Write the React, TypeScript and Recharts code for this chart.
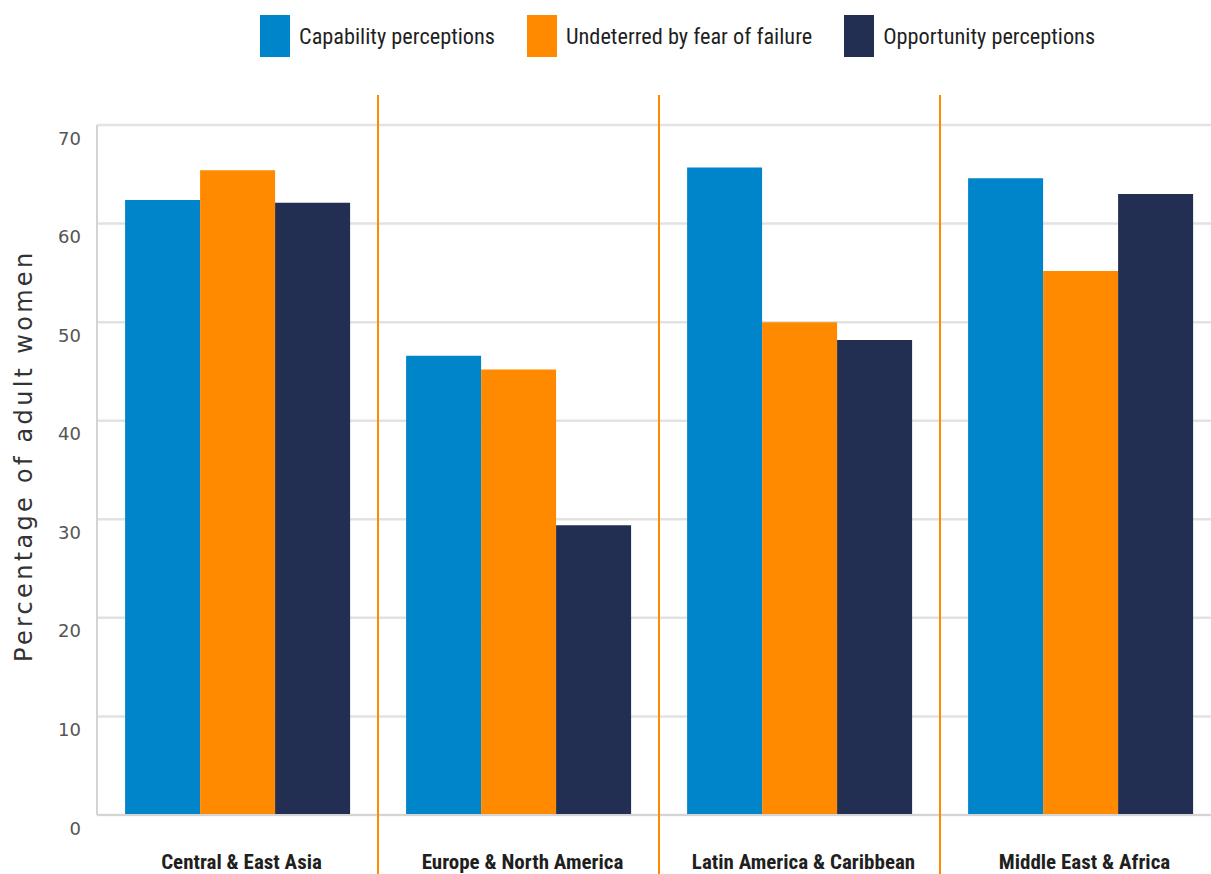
import React from 'react';
import { BarChart, Bar, XAxis, YAxis, CartesianGrid, Legend } from 'recharts';

const regions = ['Central & East Asia', 'Europe & North America', 'Latin America & Caribbean', 'Middle East & Africa'];
const capability = [62.4, 46.6, 65.7, 64.6];
const undeterred = [65.4, 45.2, 50.0, 55.2];
const opportunity = [62.1, 29.4, 48.2, 63.0];
const yTicks = [0, 10, 20, 30, 40, 50, 60, 70];

const series = [
  { key: 'capability', name: 'Capability perceptions', color: '#0085CA' },
  { key: 'undeterred', name: 'Undeterred by fear of failure', color: '#FF8A00' },
  { key: 'opportunity', name: 'Opportunity perceptions', color: '#232F52' },
];

const data = regions.map((region, i) => ({
  region,
  capability: capability[i],
  undeterred: undeterred[i],
  opportunity: opportunity[i],
}));

const narrow = '"Liberation Sans Narrow", "Arial Narrow", "Roboto Condensed", sans-serif';

const renderLegend = () => (
  <div style={{ height: 125, display: 'flex', alignItems: 'flex-start', paddingLeft: 260, paddingTop: 15, boxSizing: 'border-box' }}>
    {series.map((s) => (
      <div key={s.key} style={{ display: 'flex', alignItems: 'center', marginRight: 32 }}>
        <div style={{ width: 30, height: 42, background: s.color, marginRight: 9 }} />
        <span style={{ fontFamily: narrow, fontSize: 22.3, color: '#1f1f1f' }}>{s.name}</span>
      </div>
    ))}
  </div>
);

// category label, plus the orange divider on the left edge of every band but the first
const RegionTick = (props: any) => {
  const { x, y, payload, index } = props;
  const half = payload?.offset ?? 0;
  return (
    <g>
      {index > 0 && (
        <line x1={x - half} y1={y - 728} x2={x - half} y2={y + 60} stroke="#FF8A00" strokeWidth={2} />
      )}
      <text x={x + 4} y={y} dy={39} textAnchor="middle" dominantBaseline="central" fontFamily={narrow} fontWeight="bold" fontSize={21} fill="#1f1f1f">
        {payload.value}
      </text>
    </g>
  );
};

const ValueTick = (props: any) => {
  const { x, y, payload } = props;
  return (
    <text x={x - 8} y={y} dy={13} textAnchor="end" dominantBaseline="central" fontFamily="DejaVu Sans, sans-serif" fontSize={18} fill="#555">
      {payload.value}
    </text>
  );
};

export default function App() {
  return (
    <div style={{ position: 'fixed', left: 0, top: 0, width: 1211, height: 874, overflow: 'hidden', background: '#fff' }}>
      <BarChart
        width={1240}
        height={874}
        data={data}
        margin={{ top: 0, right: 19, left: 0, bottom: 0 }}
        barCategoryGap="10%"
        barGap={0}
      >
        <CartesianGrid vertical={false} stroke="#e2e2e2" strokeWidth={2.5} />
        <XAxis
          dataKey="region"
          height={59}
          tick={<RegionTick />}
          tickLine={false}
          axisLine={{ stroke: '#d4d4d4', strokeWidth: 2 }}
          interval={0}
        />
        <YAxis
          width={97}
          domain={[0, 70]}
          ticks={yTicks}
          tick={<ValueTick />}
          tickLine={false}
          axisLine={{ stroke: '#d4d4d4', strokeWidth: 2 }}
          label={{
            value: 'Percentage of adult women',
            angle: -90,
            position: 'insideLeft',
            dx: 18,
            dy: 192,
            style: { fontFamily: 'DejaVu Sans, sans-serif', fontSize: 24, fill: '#333', letterSpacing: 3.3, textAnchor: 'start' },
          }}
        />
        <Legend verticalAlign="top" align="left" content={renderLegend} />
        {series.map((s) => (
          <Bar key={s.key} dataKey={s.key} name={s.name} fill={s.color} isAnimationActive={false} />
        ))}
      </BarChart>
    </div>
  );
}
